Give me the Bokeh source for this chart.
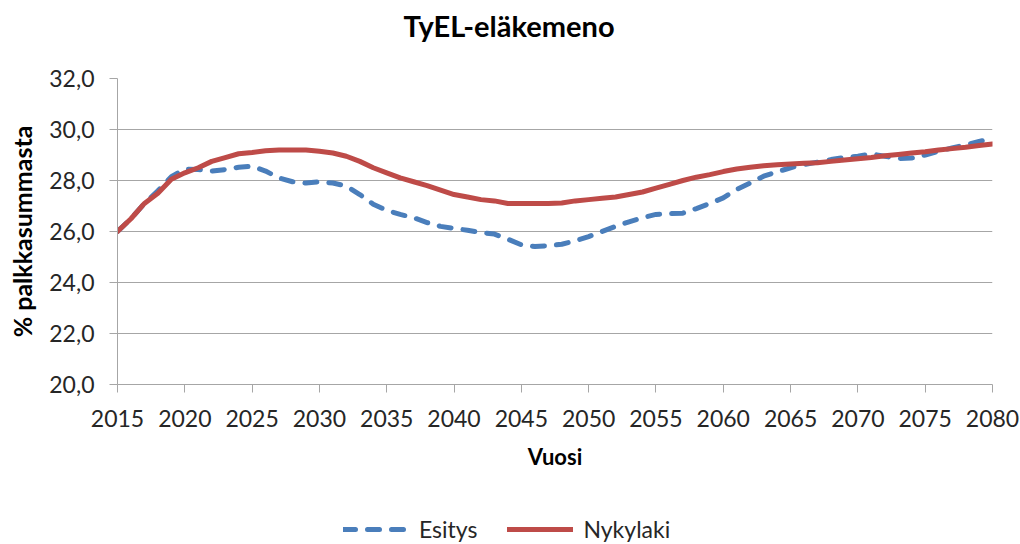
from bokeh.plotting import figure
from bokeh.layouts import column
from bokeh.models import (ColumnDataSource, Legend, LegendItem, FixedTicker,
                          CustomJSTickFormatter, Range1d, Title)
from bokeh.embed import file_html
from bokeh.resources import INLINE

years = list(range(2015, 2081))
esitys = [26.0, 26.5, 27.1, 27.6, 28.15, 28.45, 28.43, 28.37, 28.43, 28.52,
          28.56, 28.37, 28.1, 27.95, 27.9, 27.95, 27.9, 27.78, 27.45, 27.07,
          26.83, 26.67, 26.54, 26.35, 26.2, 26.12, 26.05, 25.96, 25.9, 25.7,
          25.48, 25.41, 25.44, 25.5, 25.63, 25.8, 26.0, 26.2, 26.38, 26.54,
          26.67, 26.7, 26.72, 26.9, 27.1, 27.32, 27.65, 27.9, 28.17, 28.34,
          28.5, 28.63, 28.72, 28.82, 28.9, 28.95, 29.04, 28.95, 28.86, 28.88,
          29.0, 29.15, 29.28, 29.4, 29.53, 29.64]
nykylaki = [26.0, 26.5, 27.1, 27.5, 28.05, 28.3, 28.5, 28.75, 28.9, 29.05,
            29.1, 29.17, 29.2, 29.2, 29.2, 29.15, 29.08, 28.95, 28.75, 28.5,
            28.3, 28.1, 27.95, 27.8, 27.62, 27.45, 27.35, 27.25, 27.2, 27.1,
            27.1, 27.1, 27.1, 27.12, 27.2, 27.25, 27.3, 27.35, 27.45, 27.55,
            27.7, 27.85, 28.0, 28.13, 28.23, 28.35, 28.45, 28.52, 28.58, 28.62,
            28.65, 28.68, 28.7, 28.75, 28.8, 28.85, 28.9, 28.97, 29.02, 29.08,
            29.13, 29.2, 29.25, 29.3, 29.37, 29.43]
x_ticks = list(range(2015, 2081, 5))
y_ticks = [20, 22, 24, 26, 28, 30, 32]
series_names = ["Esitys", "Nykylaki"]

FONT = "Lato"
TXT = "#262626"
GRID = "#a6a6a6"
BLUE = "#4a7ebb"
RED = "#be4b48"

src = ColumnDataSource(dict(year=years, esitys=esitys, nykylaki=nykylaki))

p = figure(width=1020, height=514, output_backend="svg", toolbar_location=None,
           x_range=Range1d(2015, 2080), y_range=Range1d(20, 32),
           min_border_left=117, min_border_right=28, min_border_top=77, min_border_bottom=130)
p.outline_line_color = None
p.background_fill_color = "white"
p.border_fill_color = "white"

# spacer title (closest to frame) then the real title above it
p.add_layout(Title(text=" ", text_font_size="17px"), "above")
p.add_layout(Title(text="TyEL-eläkemeno", align="left", offset=286, text_font=FONT,
                   text_font_size="29px", text_font_style="bold", text_color="#000000"),
             "above")

p.line("year", "esitys", source=src, line_color=BLUE, line_width=5,
       line_dash="12 12", line_cap="round", line_join="round")
p.line("year", "nykylaki", source=src, line_color=RED, line_width=5,
       line_cap="round", line_join="round")

# axes
p.xaxis.ticker = FixedTicker(ticks=x_ticks)
p.yaxis.ticker = FixedTicker(ticks=y_ticks)
p.yaxis.formatter = CustomJSTickFormatter(code="return tick.toFixed(1).replace('.', ',');")
for ax in (p.xaxis[0], p.yaxis[0]):
    ax.axis_line_color = GRID
    ax.major_tick_line_color = GRID
    ax.minor_tick_line_color = None
    ax.major_tick_out = 8
    ax.major_tick_in = 0
    ax.major_label_text_font = FONT
    ax.major_label_text_font_size = "23px"
    ax.major_label_text_color = TXT
    ax.axis_label_text_font = FONT
    ax.axis_label_text_font_style = "bold"
    ax.axis_label_text_color = "#000000"
p.xaxis.axis_label = "Vuosi"
p.yaxis.axis_label = "% palkkasummasta"
p.xaxis.axis_label_text_font_size = "22px"
p.yaxis.axis_label_text_font_size = "25px"
p.xaxis.major_label_standoff = 17
p.xaxis.axis_label_standoff = 13
p.yaxis.major_label_standoff = 15
p.yaxis.axis_label_standoff = 9

p.xgrid.grid_line_color = None
p.ygrid.grid_line_color = GRID
p.ygrid.grid_line_width = 1

# legend strip below the chart (its ranges keep the series lines out of view)
pl = figure(width=1020, height=30, output_backend="svg", toolbar_location=None,
            x_axis_type=None, y_axis_type=None, x_range=Range1d(0, 1), y_range=Range1d(0, 1),
            min_border_left=0, min_border_right=0, min_border_top=0, min_border_bottom=0)
pl.outline_line_color = None
pl.grid.grid_line_color = None
pl.background_fill_color = "white"
pl.border_fill_color = "white"
l1 = pl.line("year", "esitys", source=src, line_color=BLUE, line_width=5,
             line_dash="12 12", line_cap="round")
l2 = pl.line("year", "nykylaki", source=src, line_color=RED, line_width=5, line_cap="round")
legend = Legend(items=[LegendItem(label=series_names[0], renderers=[l1]),
                       LegendItem(label=series_names[1], renderers=[l2])],
                orientation="horizontal", location=(226, 1),
                glyph_width=66, glyph_height=24, label_standoff=10, spacing=30,
                padding=0, margin=0, border_line_color=None, background_fill_alpha=0,
                label_text_font=FONT, label_text_font_size="23px", label_text_color=TXT)
pl.add_layout(legend, "center")

layout = column(p, pl, spacing=0)
open("out.html", "w").write(file_html(layout, INLINE))
